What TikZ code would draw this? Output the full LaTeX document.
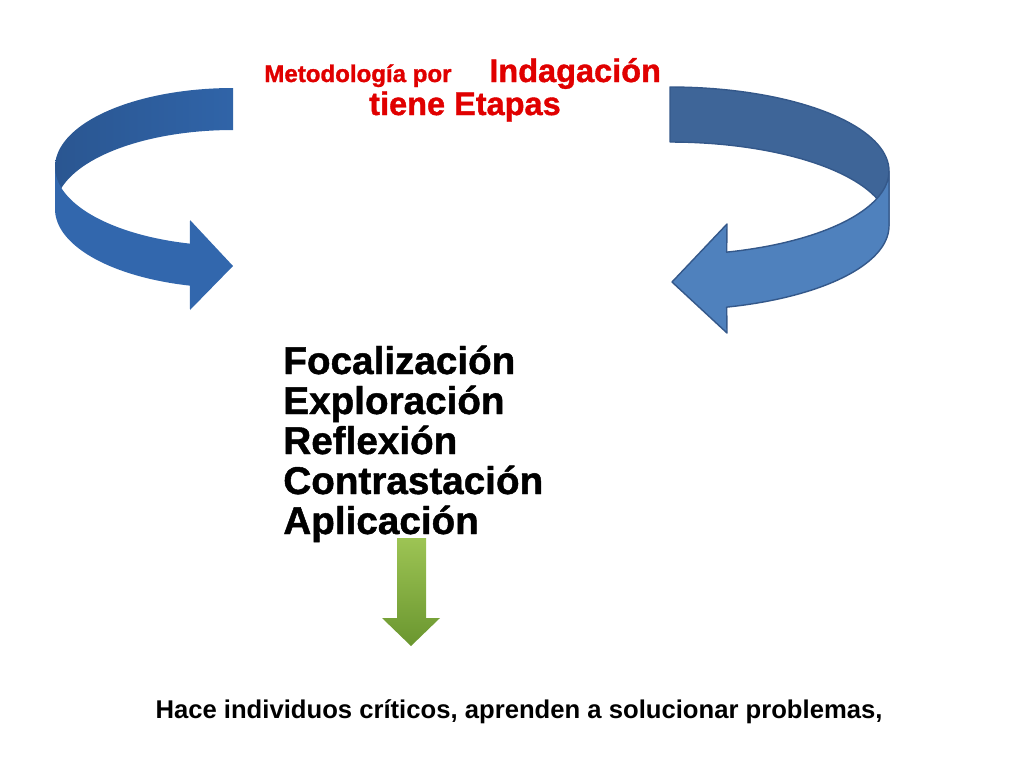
\documentclass[tikz,border=0pt]{standalone}
\usepackage{fontspec}
\setmainfont{Liberation Sans}
\newfontfamily\heavy[BoldFeatures={FakeBold=1.2}]{Liberation Sans}
\usepackage{xcolor}
\usepackage{tikz}
\definecolor{title}{HTML}{E00000}
\definecolor{backLd}{HTML}{2A5691}
\definecolor{backL}{HTML}{3064A8}
\definecolor{frontL}{HTML}{3267AD}
\definecolor{backR}{HTML}{3E6598}
\definecolor{frontR}{HTML}{4F81BD}
\definecolor{edgeR}{HTML}{34588A}
\definecolor{greenT}{HTML}{9DC454}
\definecolor{greenB}{HTML}{6A962F}
\tikzset{
  ttls/.style={text=title, inner sep=0pt, font=\fontsize{13.7}{16}\selectfont\heavy\bfseries},
  ttlb/.style={text=title, inner sep=0pt, font=\fontsize{18.5}{22}\selectfont\heavy\bfseries},
  stage/.style={inner sep=0pt, anchor=base west, font=\fontsize{22}{26}\selectfont\heavy\bfseries},
  result/.style={inner sep=0pt, anchor=base, font=\fontsize{14.6}{17}\selectfont\bfseries},
  edgeout/.style={draw=edgeR, line width=0.8pt, line join=round},
}

\begin{document}
\begin{tikzpicture}[x=0.02cm,y=-0.02cm]
  \useasboundingbox (0,0) rectangle (1024,768);
  \shade[left color=backLd, right color=backL]
    plot[domain=180:270,samples=40] ({233+178*cos(\x)},{167+79*sin(\x)})
    -- plot[domain=270:180,samples=40] ({233+178*cos(\x)},{209+79*sin(\x)}) -- cycle;
  \fill[frontL]
    plot[domain=180:104,samples=40] ({233+178*cos(\x)},{167+79*sin(\x)})
    -- (190,220) -- (233,266) -- (190,310)
    -- plot[domain=104:180,samples=40] ({233+178*cos(\x)},{209+79*sin(\x)}) -- cycle;
  \fill[backR,edgeout]
    plot[domain=270:360,samples=40] ({670+219*cos(\x)},{171+84*sin(\x)})
    -- plot[domain=360:270,samples=40] ({670+219*cos(\x)},{226+84*sin(\x)}) -- cycle;
  \fill[frontR,edgeout]
    plot[domain=0:75,samples=40] ({670+219*cos(\x)},{171+84*sin(\x)})
    -- (727,224) -- (672,282) -- (727,333)
    -- plot[domain=75:0,samples=40] ({670+219*cos(\x)},{226+84*sin(\x)}) -- cycle;
  \shade[top color=greenT, bottom color=greenB]
    (397,538) -- (426,538) -- (426,618) -- (440,618) -- (411,646) -- (382,618) -- (397,618) -- cycle;
  \node[ttls, anchor=base west] (met) at (264,82) {Metodología por};
  \node[ttlb, anchor=base west] (ind) at (489,82) {Indagación};
  \node[ttlb, anchor=base] (eta) at (465,115) {tiene Etapas};
  \foreach \s [count=\i from 0] in {Focalización,Exploración,Reflexión,Contrastación,Aplicación}
    \node[stage] (st\i) at (283,{374+40*\i}) {\s};
  \node[result] (res) at (519,718) {Hace individuos críticos, aprenden a solucionar problemas,};
\end{tikzpicture}
\end{document}
